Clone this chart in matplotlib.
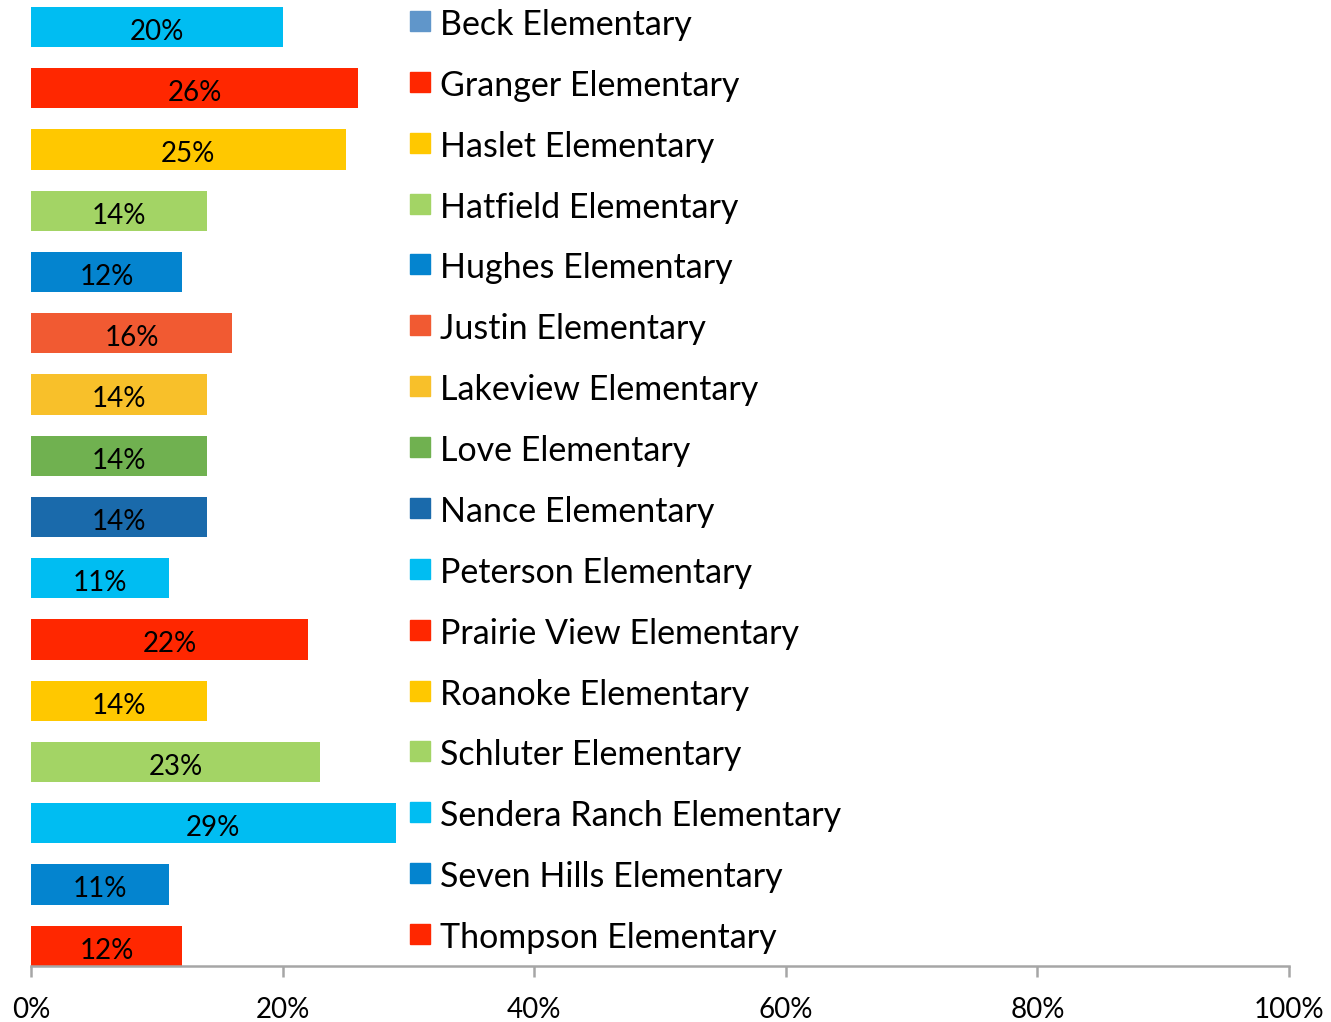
import matplotlib
matplotlib.use("Agg")
import matplotlib.pyplot as plt
from matplotlib.patches import Rectangle

plt.rcParams['font.family'] = ['Lato', 'DejaVu Sans']

# Data
schools = ["Beck Elementary", "Granger Elementary", "Haslet Elementary", "Hatfield Elementary",
           "Hughes Elementary", "Justin Elementary", "Lakeview Elementary", "Love Elementary",
           "Nance Elementary", "Peterson Elementary", "Prairie View Elementary", "Roanoke Elementary",
           "Schluter Elementary", "Sendera Ranch Elementary", "Seven Hills Elementary",
           "Thompson Elementary"]
values = [20, 26, 25, 14, 12, 16, 14, 14, 14, 11, 22, 14, 23, 29, 11, 12]
bar_colors = ["#00BDF2", "#FF2700", "#FFC800", "#A3D465", "#0484CF", "#F15A32", "#F8C02A",
              "#70B150", "#1A6AAB", "#00BDF2", "#FF2700", "#FFC800", "#A3D465", "#00BDF2",
              "#0484CF", "#FF2700"]
legend_colors = ["#6096CA"] + bar_colors[1:]
ticks = [0, 20, 40, 60, 80, 100]
tick_labels = ["0%", "20%", "40%", "60%", "80%", "100%"]

W, H = 1331, 1022
fig = plt.figure(figsize=(W / 100, H / 100), dpi=100)
ax = fig.add_axes([31 / W, (H - 966) / H, (1289 - 31) / W, 966 / H])

ypos = list(range(len(values)))
ax.barh(ypos, values, height=0.66, color=bar_colors)
for y, v in zip(ypos, values):
    ax.text(v / 2, y + 0.08, f"{v}%", ha="center", va="center", fontsize=20, color="black")

ax.set_xlim(0, 100)
ax.set_ylim(15.33, -0.44)
ax.set_xticks(ticks)
ax.set_xticklabels(tick_labels, fontsize=20)
ax.set_yticks([])
for s in ["top", "right", "left"]:
    ax.spines[s].set_visible(False)
ax.spines["bottom"].set_color("#A6A6A6")
ax.spines["bottom"].set_linewidth(1.8)
ax.tick_params(axis="x", direction="out", length=8, width=1.8, color="#A6A6A6", pad=14)

# legend entries stacked on the right
for i, (name, c) in enumerate(zip(schools, legend_colors)):
    yc = 22 + 60.87 * i
    fig.patches.append(Rectangle((410 / W, 1 - (yc + 9) / H), 20 / W, 20 / H,
                                 transform=fig.transFigure, color=c))
    fig.text(440 / W, 1 - (yc + 3) / H, name, ha="left", va="center", fontsize=24.5)

fig.savefig("out.png", dpi=100)
